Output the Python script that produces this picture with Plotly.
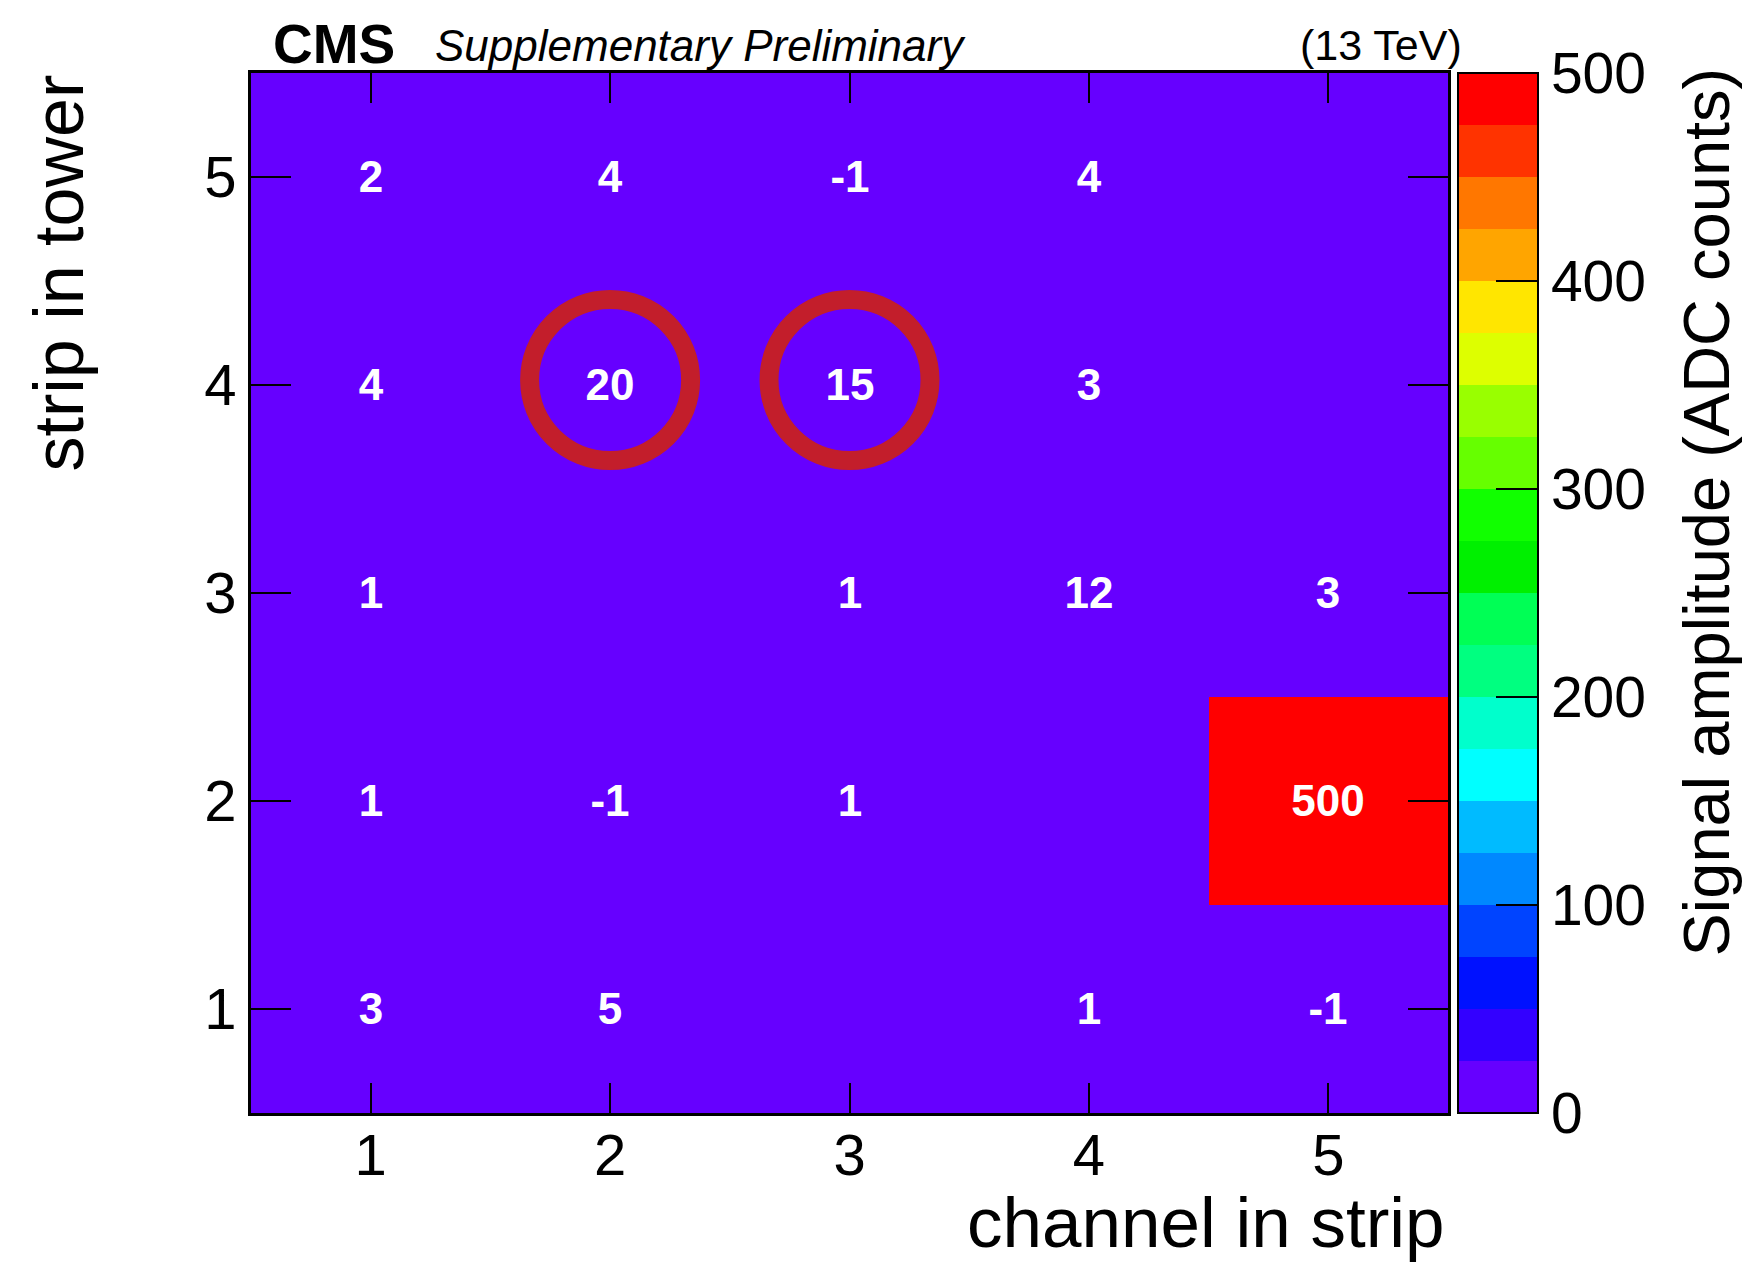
import plotly.graph_objects as go

# ---- data -------------------------------------------------------------
channels = [1, 2, 3, 4, 5]          # channel in strip (x)
strips = [1, 2, 3, 4, 5]            # strip in tower (y)

# signal amplitude (ADC counts), one row per strip, columns = channels
amp_strip1 = [3, 5, 0, 1, -1]
amp_strip2 = [1, -1, 1, 0, 500]
amp_strip3 = [1, 0, 1, 12, 3]
amp_strip4 = [4, 20, 15, 3, 0]
amp_strip5 = [2, 4, -1, 4, 0]
amplitudes = [amp_strip1, amp_strip2, amp_strip3, amp_strip4, amp_strip5]

# highlighted cells (channel, strip)
circled_cells = [(2, 4), (3, 4)]

z_min, z_max = 0, 500
cbar_ticks = [0, 100, 200, 300, 400, 500]

# 20-level rainbow palette, low -> high
palette = [
    "#6600FF", "#3300FF", "#0011FF", "#0044FF", "#0088FF",
    "#00BBFF", "#00FFFF", "#00FFCC", "#00FF80", "#00FF55",
    "#00F000", "#11FF00", "#66FF00", "#99FF00", "#DDFF00",
    "#FFE600", "#FFA500", "#FF7700", "#FF3300", "#FF0000",
]

# ---- geometry (pixels) ------------------------------------------------
W, H = 1742, 1263
L, R, T, B = 251, 1448, 73, 1113
PW, PH = R - L, B - T

def px(xp):
    return (xp - L) / PW

def py(yp):
    return (B - yp) / PH

FONT = "Liberation Sans, Arial, Helvetica, sans-serif"

# stepped colour scale
n = len(palette)
colorscale = []
for i, c in enumerate(palette):
    colorscale.append([i / n, c])
    colorscale.append([(i + 1) / n, c])

# cell labels: zero-valued cells are left blank
labels = [["" if v == 0 else str(v) for v in row] for row in amplitudes]

fig = go.Figure()
fig.add_trace(go.Heatmap(
    x=channels, y=strips, z=amplitudes,
    zmin=z_min, zmax=z_max, colorscale=colorscale,
    text=labels, texttemplate="%{text}",
    textfont=dict(family=FONT, size=44, color="white", weight="bold"),
    hoverinfo="skip",
    colorbar=dict(
        x=px(1458), xanchor="left", xref="paper",
        y=0.5, yanchor="middle", len=1, lenmode="fraction",
        thickness=80, thicknessmode="pixels",
        outlinewidth=2, outlinecolor="black",
        tickvals=cbar_ticks, ticks="inside", ticklen=43,
        tickwidth=2, tickcolor="black",
        tickfont=dict(family=FONT, size=57, color="black"),
        ypad=0, xpad=0,
    ),
))

# circles around the highlighted cells
unit_x = PW / 5.0
unit_y = PH / 5.0
ring_r = 80.5
for cx, cy in circled_cells:
    yc = cy + 5.0 / unit_y
    fig.add_shape(
        type="circle", xref="x", yref="y",
        x0=cx - ring_r / unit_x, x1=cx + ring_r / unit_x,
        y0=yc - ring_r / unit_y, y1=yc + ring_r / unit_y,
        line=dict(color="#C31E2B", width=19),
        fillcolor="rgba(0,0,0,0)", layer="above",
    )

axis_common = dict(
    showgrid=False, zeroline=False,
    showline=True, linecolor="black", linewidth=3, mirror="ticks",
    ticks="inside", tickcolor="black", tickwidth=2,
    tickfont=dict(family=FONT, size=58, color="black"),
    range=[0.5, 5.5], tickvals=[1, 2, 3, 4, 5],
)

fig.update_layout(
    width=W, height=H,
    margin=dict(l=L, r=W - R, t=T, b=H - B),
    paper_bgcolor="white", plot_bgcolor="#6600FF",
    xaxis=dict(axis_common, ticklen=30, ticklabelstandoff=-11),
    yaxis=dict(axis_common, ticklen=40),
    showlegend=False,
    annotations=[
        dict(text="<b>CMS</b>", x=px(271), y=py(44), xref="paper", yref="paper",
             xanchor="left", yanchor="middle", showarrow=False,
             font=dict(family=FONT, size=55, color="black")),
        dict(text="<i>Supplementary Preliminary</i>", x=px(433), y=py(45),
             xref="paper", yref="paper", xanchor="left", yanchor="middle",
             showarrow=False, font=dict(family=FONT, size=44, color="black")),
        dict(text="(13 TeV)", x=px(1464), y=py(45), xref="paper", yref="paper",
             xanchor="right", yanchor="middle", showarrow=False,
             font=dict(family=FONT, size=43, color="black")),
        dict(text="channel in strip", x=px(1447), y=py(1222), xref="paper",
             yref="paper", xanchor="right", yanchor="middle", showarrow=False,
             font=dict(family=FONT, size=71, color="black")),
        dict(text="strip in tower", x=px(58), y=py(73), xref="paper",
             yref="paper", xanchor="center", yanchor="top", textangle=-90,
             showarrow=False, font=dict(family=FONT, size=70, color="black")),
        dict(text="Signal amplitude (ADC counts)", x=px(1706), y=py(66),
             xref="paper", yref="paper", xanchor="center", yanchor="top",
             textangle=-90, showarrow=False,
             font=dict(family=FONT, size=65, color="black")),
    ],
)

fig.write_html("out.html")
